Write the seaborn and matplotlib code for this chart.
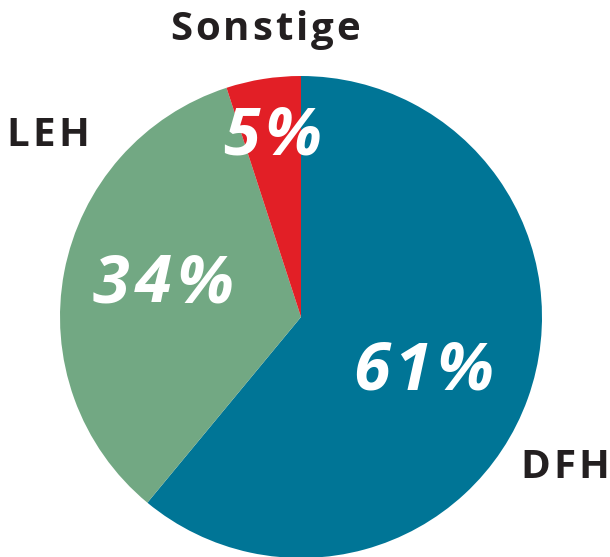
import matplotlib
matplotlib.use("Agg")
import matplotlib.pyplot as plt
import seaborn as sns

# data
labels = ["DFH", "LEH", "Sonstige"]
shares = [61, 34, 5]
pct_text = ["61%", "34%", "5%"]
colors = ["#007596", "#72a883", "#e21f26"]

sns.set_theme(style="white")
plt.rcParams["font.family"] = ["Open Sans", "DejaVu Sans"]

W, H = 610, 557
fig = plt.figure(figsize=(W / 100, H / 100), dpi=100)
ax = fig.add_axes([0, 0, 1, 1])

cx, cy, r = 301, H - 317, 241
ax.pie(shares, colors=colors, startangle=90, counterclock=False,
       center=(cx, cy), radius=r, frame=True,
       wedgeprops=dict(linewidth=0), normalize=True)
ax.set_xlim(0, W)
ax.set_ylim(0, H)
ax.set_aspect("equal")
ax.axis("off")

renderer = fig.canvas.get_renderer()


def tracked_text(s, x, y, track, **kw):
    # draw letters one by one with extra spacing, centred on x
    parts = [ax.text(0, y, ch, ha="left", va="center", **kw) for ch in s]
    widths = [p.get_window_extent(renderer).width for p in parts]
    total = sum(widths) + track * (len(s) - 1)
    pos = x - total / 2
    for p, w in zip(parts, widths):
        p.set_x(pos)
        pos += w + track


# percentage labels (pixel positions of reference)
pct_pos = [(423, 372), (163, 285), (272, 137)]
for t, (x, y) in zip(pct_text, pct_pos):
    tracked_text(t, x, H - y, 5, color="white", fontsize=48,
                 fontweight="bold", fontstyle="italic")

# category labels
lab_pos = [(565, 467), (48, 135), (265, 30)]
for t, (x, y) in zip(labels, lab_pos):
    tracked_text(t, x, H - y, 3, color="#231f20", fontsize=29,
                 fontweight="bold")

fig.savefig("out.png", dpi=100)
